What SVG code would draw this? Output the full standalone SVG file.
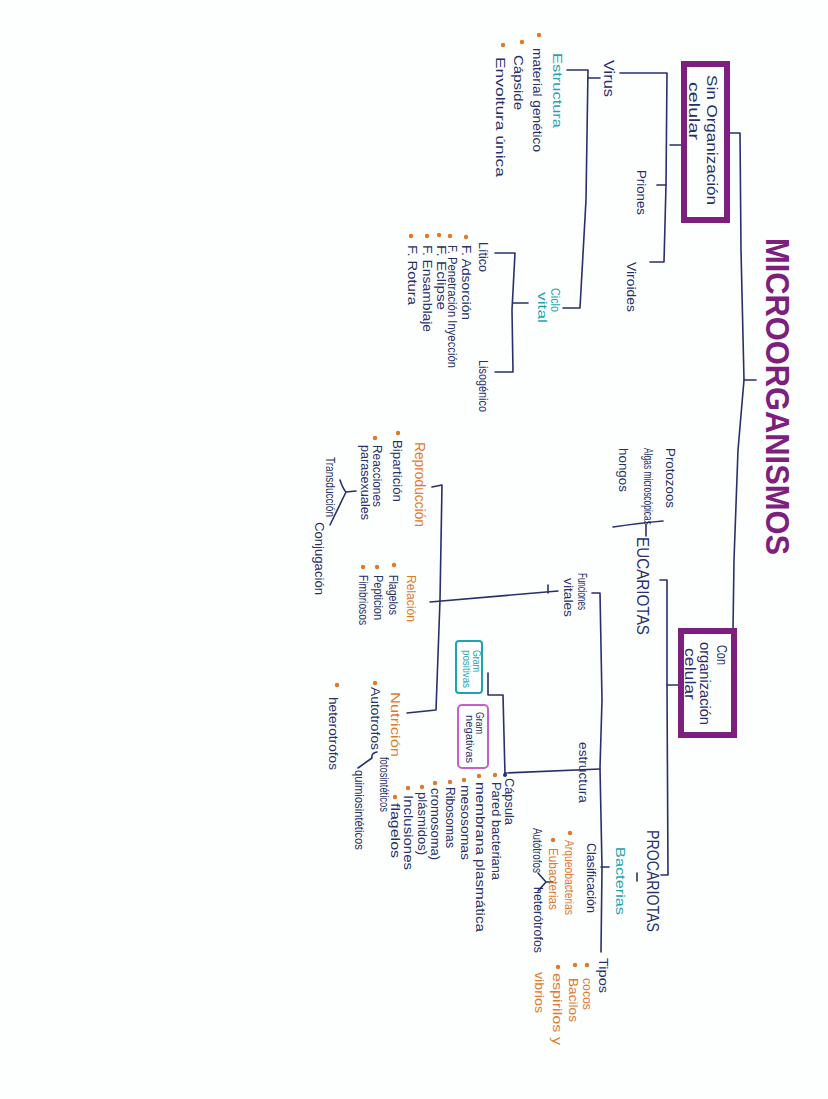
<svg xmlns="http://www.w3.org/2000/svg" width="828" height="1099" viewBox="0 0 828 1099">
<style>
text{font-family:"Liberation Sans","DejaVu Sans",sans-serif;font-size:13px;fill:#27306a}
.o{fill:#e0792c}
.tl{fill:#1ea4b0}
.big{font-size:17px}
.bx{font-size:14px}
.title{font-size:34px;font-weight:bold;fill:#7d1f7d}
.ln{fill:none;stroke:#27306a;stroke-width:1.6;stroke-linecap:round;stroke-linejoin:round}
.pbox{fill:none;stroke:#7d1f7d;stroke-width:6}
.dot{fill:#e0792c}
</style>
<rect width="828" height="1099" fill="#fdfefe"/>
<g id="connectors">
<path class="ln" d="M728,133 L740,133 L741,250 L744,380 L738,450 L734,560 L733,630"/>
<path class="ln" d="M744,380 L756,380"/>
<path class="ln" d="M670,145 L684,145"/>
<path class="ln" d="M620,73 L667,73 L666,185 L664,262 L650,262"/>
<path class="ln" d="M657,185 L666,185"/>
<path class="ln" d="M567,70 L588,70 L586,200 L580,308 L563,308"/>
<path class="ln" d="M588,78 L600,78"/>
<path class="ln" d="M528,303 L513,303"/>
<path class="ln" d="M495,253 L515,253 L512,310 L513,372 L495,372"/>
<path class="ln" d="M613,527 Q640,523 663,521"/>
<path class="ln" d="M646,525 L646,536"/>
<path class="ln" d="M660,580 L667,580 L667,685 L668,875 L661,875"/>
<path class="ln" d="M667,685 L680,685"/>
<path class="ln" d="M637,873 L637,881"/>
<path class="ln" d="M592,593 L600,593 L602,700 L600,768 L602,867 L601,952"/>
<path class="ln" d="M601,867 L609,867"/>
<path class="ln" d="M600,769 L505,773"/>
<path class="ln" d="M488,673 L488,695 L503,695 L505,775"/>
<path class="ln" d="M558,591 Q500,596 430,602"/>
<path class="ln" d="M548,585 L548,593"/>
<path class="ln" d="M432,487 L442,485 L440,600 L436,710 L407,713"/>
<path class="ln" d="M340,480 Q343,489 346,492 L356,491 M346,492 L330,525"/>
<path class="ln" d="M377,752 Q371,753 372,758 L358,768"/>
<path class="ln" d="M538,873 L546,882 L538,891 M546,882 L553,882"/>
</g>
<g id="n-title"><text class="title" transform="translate(766,238) rotate(90)" textLength="317" lengthAdjust="spacingAndGlyphs">MICROORGANISMOS</text></g>
<g id="n-sin">
<rect class="pbox" x="684" y="64" width="43" height="156"/>
<text class="bx" transform="translate(707,75) rotate(90)" textLength="130" lengthAdjust="spacingAndGlyphs">Sin Organización</text>
<text class="bx" transform="translate(689,82) rotate(90)" textLength="58" lengthAdjust="spacingAndGlyphs">celular</text>
</g>
<g id="n-con">
<rect class="pbox" x="681" y="631" width="53" height="104"/>
<text class="bx" transform="translate(717,645) rotate(90)" textLength="20" lengthAdjust="spacingAndGlyphs">Con</text>
<text class="bx" transform="translate(700,642) rotate(90)" textLength="83" lengthAdjust="spacingAndGlyphs">organización</text>
<text class="bx" transform="translate(685,648) rotate(90)" textLength="52" lengthAdjust="spacingAndGlyphs">celular</text>
</g>
<g id="n-virus"><text class="bx" transform="translate(604,60) rotate(90)" textLength="37" lengthAdjust="spacingAndGlyphs">Virus</text></g>
<g id="n-priones"><text transform="translate(637,170) rotate(90)" textLength="45" lengthAdjust="spacingAndGlyphs">Priones</text></g>
<g id="n-viroides"><text transform="translate(627,262) rotate(90)" textLength="50" lengthAdjust="spacingAndGlyphs">Viroides</text></g>
<g id="n-estructura-v">
<text class="tl" transform="translate(553,53) rotate(90)" textLength="75" lengthAdjust="spacingAndGlyphs">Estructura</text>
<circle class="dot" cx="539" cy="35" r="2.2"/><circle class="dot" cx="522" cy="42" r="2.2"/><circle class="dot" cx="503" cy="45" r="2.2"/>
<text transform="translate(533,48) rotate(90)" textLength="104" lengthAdjust="spacingAndGlyphs">material genético</text>
<text transform="translate(514,55) rotate(90)" textLength="55" lengthAdjust="spacingAndGlyphs">Cápside</text>
<text transform="translate(496,57) rotate(90)" textLength="120" lengthAdjust="spacingAndGlyphs">Envoltura única</text>
</g>
<g id="n-ciclo">
<text class="tl" transform="translate(551,288) rotate(90)" textLength="24" lengthAdjust="spacingAndGlyphs">Ciclo</text>
<text class="tl" transform="translate(538,292) rotate(90)" textLength="31" lengthAdjust="spacingAndGlyphs">vital</text>
</g>
<g id="n-litico">
<text transform="translate(479,242) rotate(90)" textLength="30" lengthAdjust="spacingAndGlyphs">Lítico</text>
<circle class="dot" cx="466" cy="237" r="2.2"/><circle class="dot" cx="450" cy="236" r="2.2"/><circle class="dot" cx="439" cy="235" r="2.2"/><circle class="dot" cx="427" cy="236" r="2.2"/><circle class="dot" cx="411" cy="236" r="2.2"/>
<text transform="translate(462,245) rotate(90)" textLength="75" lengthAdjust="spacingAndGlyphs">F. Adsorción</text>
<text transform="translate(448,245) rotate(90)" textLength="123" lengthAdjust="spacingAndGlyphs">F. Penetración Inyección</text>
<text transform="translate(437,245) rotate(90)" textLength="65" lengthAdjust="spacingAndGlyphs">F. Eclipse</text>
<text transform="translate(423,245) rotate(90)" textLength="87" lengthAdjust="spacingAndGlyphs">F. Ensamblaje</text>
<text transform="translate(408,245) rotate(90)" textLength="60" lengthAdjust="spacingAndGlyphs">F. Rotura</text>
</g>
<g id="n-lisogenico"><text transform="translate(479,360) rotate(90)" textLength="52" lengthAdjust="spacingAndGlyphs">Lisogénico</text></g>
<g id="n-eucariotas">
<text class="big" transform="translate(637,537) rotate(90)" textLength="98" lengthAdjust="spacingAndGlyphs">EUCARIOTAS</text>
<text transform="translate(666,448) rotate(90)" textLength="60" lengthAdjust="spacingAndGlyphs">Protozoos</text>
<text transform="translate(644,448) rotate(90)" textLength="77" lengthAdjust="spacingAndGlyphs">Algas microscópicas</text>
<text transform="translate(619,448) rotate(90)" textLength="44" lengthAdjust="spacingAndGlyphs">hongos</text>
</g>
<g id="n-procariotas"><text class="big" transform="translate(647,830) rotate(90)" textLength="102" lengthAdjust="spacingAndGlyphs">PROCARIOTAS</text></g>
<g id="n-bacterias"><text class="tl" transform="translate(616,847) rotate(90)" textLength="68" lengthAdjust="spacingAndGlyphs">Bacterias</text></g>
<g id="n-funciones">
<text transform="translate(578,573) rotate(90)" textLength="37" lengthAdjust="spacingAndGlyphs">Funciones</text>
<text transform="translate(564,578) rotate(90)" textLength="39" lengthAdjust="spacingAndGlyphs">vitales</text>
</g>
<g id="n-reproduccion">
<text class="o bx" transform="translate(415,442) rotate(90)" textLength="85" lengthAdjust="spacingAndGlyphs">Reproducción</text>
<circle class="dot" cx="398" cy="433" r="2.2"/><circle class="dot" cx="375" cy="438" r="2.2"/>
<text transform="translate(393,440) rotate(90)" textLength="62" lengthAdjust="spacingAndGlyphs">Bipartición</text>
<text transform="translate(373,445) rotate(90)" textLength="62" lengthAdjust="spacingAndGlyphs">Reacciones</text>
<text transform="translate(361,445) rotate(90)" textLength="75" lengthAdjust="spacingAndGlyphs">parasexuales</text>
<text transform="translate(326,457) rotate(90)" textLength="60" lengthAdjust="spacingAndGlyphs">Transducción</text>
<text transform="translate(315,522) rotate(90)" textLength="73" lengthAdjust="spacingAndGlyphs">Conjugación</text>
</g>
<g id="n-relacion">
<text class="o" transform="translate(407,575) rotate(90)" textLength="47" lengthAdjust="spacingAndGlyphs">Relación</text>
<circle class="dot" cx="394" cy="565" r="2.2"/><circle class="dot" cx="377" cy="567" r="2.2"/><circle class="dot" cx="363" cy="567" r="2.2"/>
<text transform="translate(389,575) rotate(90)" textLength="40" lengthAdjust="spacingAndGlyphs">Flagelos</text>
<text transform="translate(374,575) rotate(90)" textLength="45" lengthAdjust="spacingAndGlyphs">Pepticion</text>
<text transform="translate(359,575) rotate(90)" textLength="50" lengthAdjust="spacingAndGlyphs">Fimbriosos</text>
</g>
<g id="n-nutricion">
<text class="o" transform="translate(391,692) rotate(90)" textLength="65" lengthAdjust="spacingAndGlyphs">Nutrición</text>
<circle class="dot" cx="375" cy="683" r="2.2"/><circle class="dot" cx="337" cy="685" r="2.2"/>
<text transform="translate(371,687) rotate(90)" textLength="63" lengthAdjust="spacingAndGlyphs">Autotrofos</text>
<text transform="translate(380,757) rotate(90)" textLength="55" lengthAdjust="spacingAndGlyphs">fotosintéticos</text>
<text transform="translate(355,770) rotate(90)" textLength="80" lengthAdjust="spacingAndGlyphs">quimiosintéticos</text>
<text transform="translate(329,697) rotate(90)" textLength="73" lengthAdjust="spacingAndGlyphs">heterotrofos</text>
</g>
<g id="n-gram-pos">
<rect x="456" y="641" width="26" height="52" rx="3" fill="none" stroke="#1ea4b0" stroke-width="2"/>
<text class="tl" style="font-size:11px" transform="translate(473,650) rotate(90)" textLength="22" lengthAdjust="spacingAndGlyphs">Gram</text>
<text class="tl" style="font-size:11px" transform="translate(463,650) rotate(90)" textLength="38" lengthAdjust="spacingAndGlyphs">positivas</text>
</g>
<g id="n-gram-neg">
<rect x="458" y="705" width="30" height="63" rx="4" fill="none" stroke="#c462c4" stroke-width="2"/>
<text style="font-size:11px" transform="translate(476,712) rotate(90)" textLength="22" lengthAdjust="spacingAndGlyphs">Gram</text>
<text style="font-size:11px" transform="translate(466,715) rotate(90)" textLength="48" lengthAdjust="spacingAndGlyphs">negativas</text>
</g>
<g id="n-estructura-b">
<text transform="translate(579,742) rotate(90)" textLength="61" lengthAdjust="spacingAndGlyphs">estructura</text>
<circle class="dot" cx="495" cy="775" r="2.2"/><circle class="dot" cx="479" cy="776" r="2.2"/><circle class="dot" cx="464" cy="780" r="2.2"/><circle class="dot" cx="450" cy="782" r="2.2"/><circle class="dot" cx="435" cy="783" r="2.2"/><circle class="dot" cx="422" cy="787" r="2.2"/><circle class="dot" cx="408" cy="788" r="2.2"/><circle class="dot" cx="395" cy="797" r="2.2"/>
<circle cx="505" cy="775" r="2" fill="#27306a"/>
<text transform="translate(505,778) rotate(90)" textLength="47" lengthAdjust="spacingAndGlyphs">Cápsula</text>
<text transform="translate(492,782) rotate(90)" textLength="98" lengthAdjust="spacingAndGlyphs">Pared bacteriana</text>
<text transform="translate(476,782) rotate(90)" textLength="150" lengthAdjust="spacingAndGlyphs">membrana plasmática</text>
<text transform="translate(461,785) rotate(90)" textLength="75" lengthAdjust="spacingAndGlyphs">mesosomas</text>
<text transform="translate(446,787) rotate(90)" textLength="61" lengthAdjust="spacingAndGlyphs">Ribosomas</text>
<text transform="translate(431,788) rotate(90)" textLength="72" lengthAdjust="spacingAndGlyphs">cromosoma)</text>
<text transform="translate(418,792) rotate(90)" textLength="63" lengthAdjust="spacingAndGlyphs">plásmidos)</text>
<text transform="translate(404,795) rotate(90)" textLength="75" lengthAdjust="spacingAndGlyphs">Inclusiones</text>
<text transform="translate(391,803) rotate(90)" textLength="55" lengthAdjust="spacingAndGlyphs">flagelos</text>
</g>
<g id="n-clasificacion">
<text transform="translate(587,843) rotate(90)" textLength="70" lengthAdjust="spacingAndGlyphs">Clasificación</text>
<circle class="dot" cx="570" cy="833" r="2.2"/><circle class="dot" cx="553" cy="840" r="2.2"/>
<text class="o" transform="translate(565,840) rotate(90)" textLength="75" lengthAdjust="spacingAndGlyphs">Arqueobacterias</text>
<text class="o" transform="translate(549,848) rotate(90)" textLength="62" lengthAdjust="spacingAndGlyphs">Eubacterias</text>
<text transform="translate(533,828) rotate(90)" textLength="45" lengthAdjust="spacingAndGlyphs">Autótrofos</text>
<text transform="translate(534,887) rotate(90)" textLength="66" lengthAdjust="spacingAndGlyphs">heterótrofos</text>
</g>
<g id="n-tipos">
<text transform="translate(599,958) rotate(90)" textLength="35" lengthAdjust="spacingAndGlyphs">Tipos</text>
<circle class="dot" cx="587" cy="965" r="2.2"/><circle class="dot" cx="575" cy="965" r="2.2"/><circle class="dot" cx="558" cy="967" r="2.2"/>
<text class="o" transform="translate(583,978) rotate(90)" textLength="32" lengthAdjust="spacingAndGlyphs">cocos</text>
<text class="o" transform="translate(569,978) rotate(90)" textLength="44" lengthAdjust="spacingAndGlyphs">Bacilos</text>
<text class="o" transform="translate(553,973) rotate(90)" textLength="72" lengthAdjust="spacingAndGlyphs">espirilos y</text>
<text class="o" transform="translate(535,972) rotate(90)" textLength="41" lengthAdjust="spacingAndGlyphs">vibrios</text>
</g>
</svg>
